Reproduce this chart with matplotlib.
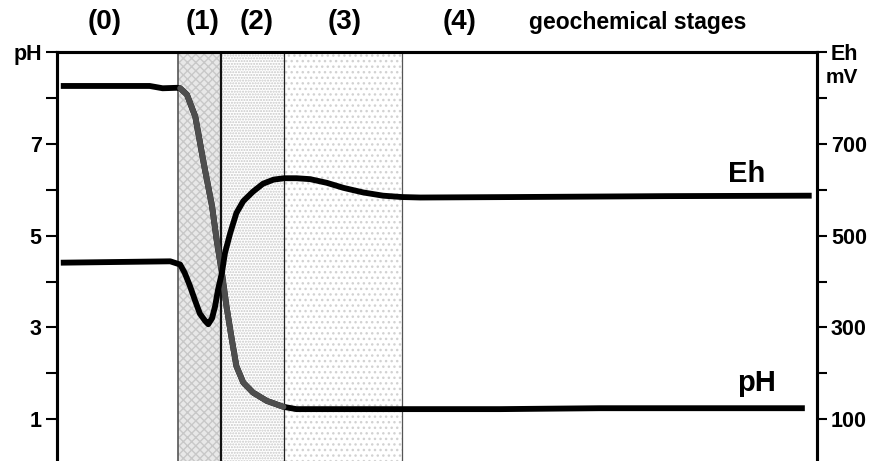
import matplotlib.pyplot as plt
import numpy as np

# Data (time axis in arbitrary units, 0..100)
stage_edges = [15.9, 21.6, 29.9, 45.4]
stage_labels = ['(0)', '(1)', '(2)', '(3)', '(4)']
stage_label_x = [6.3, 19.2, 26.3, 37.8, 53.0]

ph_x = [0.5, 12.2, 13.9, 15.8, 16.2, 17.1, 18.2, 19.3, 20.4, 21.0, 21.7, 22.3,
        23.0, 23.6, 24.5, 25.8, 27.6, 29.8, 31.5, 58.3, 71.4, 98.4]
ph_y = [8.26, 8.26, 8.21, 8.22, 8.21, 8.07, 7.59, 6.58, 5.64, 4.91, 4.19, 3.46,
        2.74, 2.16, 1.80, 1.58, 1.40, 1.27, 1.22, 1.22, 1.24, 1.24]

eh_x = [0.5, 14.9, 16.2, 16.8, 17.5, 18.2, 18.8, 19.5, 19.9, 20.4, 20.8, 21.2,
        21.7, 22.1, 22.8, 23.6, 24.5, 25.8, 27.1, 28.5, 29.9, 31.5, 33.3, 35.5,
        37.7, 40.3, 42.9, 45.4, 47.8, 60.0, 80.0, 99.3]
eh_y = [441, 444, 437, 419, 390, 357, 330, 314, 307, 320, 346, 383,
        419, 462, 506, 549, 575, 596, 613, 622, 625, 625, 623, 615,
        604, 594, 587, 584, 583, 584, 586, 587]

ph_ticks = [1, 2, 3, 4, 5, 6, 7, 8, 9]
ph_ticklabels = ['1', '', '3', '', '5', '', '7', '', 'pH']
eh_ticks = [100, 200, 300, 400, 500, 600, 700, 800, 900]
eh_ticklabels = ['100', '', '300', '', '500', '', '700', '', 'Eh']

plt.rcParams['font.family'] = 'Liberation Sans'
plt.rcParams['font.weight'] = 'bold'
plt.rcParams['hatch.linewidth'] = 1.0

fig = plt.figure(figsize=(8.7, 4.61), dpi=100)
ax = fig.add_axes([57 / 870, 0.0, 760 / 870, 409 / 461])
ax2 = ax.twinx()

ax.set_xlim(0, 100)
ax.set_ylim(0.09, 9)
ax2.set_ylim(9, 900)

# Stage shading
ax.axvspan(stage_edges[0], stage_edges[1], facecolor='#e8e8e8',
           hatch='xxxx', edgecolor='#c8c8c8', linewidth=0, zorder=0)
ax.axvspan(stage_edges[1], stage_edges[2], facecolor='white',
           hatch='......', edgecolor='#c8c8c8', linewidth=0, zorder=0)
ax.axvspan(stage_edges[2], stage_edges[3], facecolor='white',
           hatch='...', edgecolor='#d2d2d2', linewidth=0, zorder=0)

line_styles = [('#555555', 1.2), ('#111111', 1.6), ('#222222', 0.9), ('#555555', 0.9)]
for xe, (c, lw) in zip(stage_edges, line_styles):
    ax.axvline(xe, color=c, lw=lw, zorder=1)

# Curves
ax.plot(ph_x, ph_y, color='black', lw=4.2, solid_capstyle='butt',
        solid_joinstyle='round', zorder=3)
ph_x_arr = np.array(ph_x)
mask = (ph_x_arr >= stage_edges[0]) & (ph_x_arr <= stage_edges[2])
ax.plot(ph_x_arr[mask], np.array(ph_y)[mask], color='#4e4e4e', lw=4.2,
        solid_capstyle='round', solid_joinstyle='round', zorder=4)
ax2.plot(eh_x, eh_y, color='black', lw=4.2, solid_capstyle='butt',
         solid_joinstyle='round', zorder=3)

# Axes styling
for a in (ax, ax2):
    a.spines['bottom'].set_visible(False)
    a.spines['top'].set_linewidth(2.2)
    a.spines['left'].set_linewidth(2.2)
    a.spines['right'].set_linewidth(2.2)
    a.set_xticks([])

ax.set_yticks(ph_ticks)
ax.set_yticklabels(ph_ticklabels, fontsize=15.5, fontweight='bold')
ax.tick_params(axis='y', direction='out', length=8, width=1.5, pad=3)
ax2.set_yticks(eh_ticks)
ax2.set_yticklabels(eh_ticklabels, fontsize=15.5, fontweight='bold')
ax2.tick_params(axis='y', direction='out', length=7, width=1.5, pad=3)
ax2.text(1.012, 0.937, 'mV', transform=ax2.transAxes, fontsize=15,
         fontweight='bold', ha='left', va='center')

# Stage labels
for lx, lab in zip(stage_label_x, stage_labels):
    ax.text(lx, 1.073, lab, transform=ax.get_xaxis_transform(), fontsize=20,
            fontweight='bold', ha='center', va='center')
ax.text(76.4, 1.073, 'geochemical stages', transform=ax.get_xaxis_transform(),
        fontsize=16.5, fontweight='bold', ha='center', va='center')

# Curve labels
ax.text(90.8, 6.35, 'Eh', fontsize=21, fontweight='bold', ha='center', va='center')
ax.text(92.1, 1.80, 'pH', fontsize=21, fontweight='bold', ha='center', va='center')

fig.savefig('out.png', dpi=100)
